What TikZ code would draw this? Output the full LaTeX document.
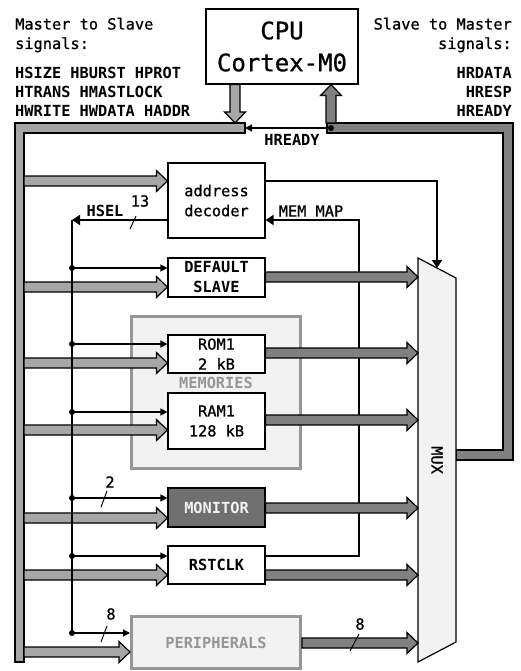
\documentclass[tikz,border=0pt]{standalone}
\usepackage{fontspec}
\usepackage{tikz}
\usetikzlibrary{calc,arrows.meta}
\newfontfamily\mono[FakeBold=0.9]{DejaVu Sans Mono}
\newfontfamily\monob[BoldFont={DejaVu Sans Mono Bold}]{DejaVu Sans Mono Bold}
\newcommand{\txt}{\mono\fontsize{15.3}{20}\selectfont}
\newcommand{\btxt}{\monob\fontsize{15.3}{20}\selectfont}
\definecolor{ingray}{RGB}{166,166,166}
\definecolor{outgray}{RGB}{128,128,128}
\definecolor{boxfill}{RGB}{242,242,242}
\definecolor{grpgray}{RGB}{150,150,150}
\definecolor{mongray}{RGB}{112,112,112}
\tikzset{
  lbl/.style={font=\txt, inner sep=0pt},
  blbl/.style={font=\btxt, inner sep=0pt},
  blk/.style={draw, line width=1.2pt, fill=white, minimum width=97pt, inner sep=0pt, align=center, font=\btxt},
  grp/.style={draw=grpgray, line width=3pt, fill=boxfill, minimum width=169pt, inner sep=0pt, font=\btxt, text=grpgray},
  fatline/.style={draw=black, line width=1.2pt, line join=miter},
  sig/.style={line width=1.3pt, -{Triangle[width=7pt,length=7pt]}},
  bsig/.style={line width=2.5pt, -{Triangle[width=10pt,length=8pt]}},
  bline/.style={line width=2.5pt},
  tick/.style={line width=1pt}
}
% flecha gruesa de #2 a #3
\newcommand{\fatarrow}[3][ingray]{%
  \coordinate (fa-s) at #2;
  \coordinate (fa-e) at #3;
  \coordinate (fa-b) at ($(fa-e)!11pt!(fa-s)$);
  \draw[fatline, fill=#1]
    ($(fa-s)!5pt!90:(fa-e)$) -- ($(fa-b)!5pt!-90:(fa-s)$) -- ($(fa-b)!10.5pt!-90:(fa-s)$)
    -- (fa-e) -- ($(fa-b)!10.5pt!90:(fa-s)$) -- ($(fa-b)!5pt!90:(fa-s)$)
    -- ($(fa-s)!5pt!-90:(fa-e)$) -- cycle;}
\begin{document}
\begin{tikzpicture}[x=1pt,y=-1pt]
  \useasboundingbox (0,0) rectangle (520,671);

  % textos de senales
  \node[lbl, anchor=base west] (m2s1) at (15,29.5) {Master to Slave};
  \node[lbl, anchor=base west] (m2s2) at (15,49) {signals:};
  \node[blbl, anchor=base west] (m2sa) at (15,78.5) {HSIZE HBURST HPROT};
  \node[blbl, anchor=base west] (m2sb) at (15,97.5) {HTRANS HMASTLOCK};
  \node[blbl, anchor=base west] (m2sc) at (15,116.5) {HWRITE HWDATA HADDR};
  \node[lbl, anchor=base east] (s2m1) at (512,29.5) {Slave to Master};
  \node[lbl, anchor=base east] (s2m2) at (512,49) {signals:};
  \node[blbl, anchor=base east] (s2ma) at (512,78.5) {HRDATA};
  \node[blbl, anchor=base east] (s2mb) at (512,97.5) {HRESP};
  \node[blbl, anchor=base east] (s2mc) at (512,116.5) {HREADY};

  % CPU
  \node[blk, minimum width=152pt, minimum height=75pt, font=\mono\fontsize{24}{32}\selectfont] (cpu) at (282,46.5) {CPU\\Cortex-M0};

  % buses
  \draw[fatline, fill=ingray] (15,123) -- (245,123) -- (245,133) -- (24,133) -- (24,662) -- (15,662) -- cycle;
  \draw[fatline, fill=outgray] (327,123) -- (513,123) -- (513,460) -- (456,460) -- (456,450) -- (503,450) -- (503,133) -- (327,133) -- cycle;
  \coordinate (hbusin) at (235,123);
  \coordinate (hrj) at (331,123);
  \coordinate (hrdot) at (331,128);
  \coordinate (hbusend) at (245,128);
  \fatarrow{(hbusin |- cpu.south)}{(hbusin)}
  \fatarrow[outgray]{(hrj)}{(hrj |- cpu.south)}
  \draw[sig] (hrdot) -- (hbusend);
  \fill (hrdot) circle (3pt);
  \node[blbl] (hready) at (292,140) {HREADY};

  % MUX
  \coordinate (muxtl) at (418,258);
  \coordinate (muxtr) at (456,278);
  \coordinate (muxbr) at (456,642);
  \coordinate (muxbl) at (418,662);
  \coordinate (muxin) at ($(muxtl)!0.5!(muxtr)$);
  \draw[fill=boxfill, line width=1.2pt] (muxtl) -- (muxtr) -- (muxbr) -- (muxbl) -- cycle;
  \node[lbl, rotate=-90] (muxlbl) at (437,460) {MUX};

  % bloques
  \node[grp, minimum height=152pt] (mem) at (216,392.5) {};
  \node[blbl, text=grpgray] (memlbl) at (216,383) {MEMORIES};
  \node[blk, minimum height=75pt, font=\txt] (dec) at (216.5,200.5) {address\\decoder};
  \node[blk, minimum height=39pt] (dflt) at (216.5,277.5) {DEFAULT\\SLAVE};
  \node[blk, minimum height=38pt, font=\txt] (rom) at (216.5,354) {ROM1\\2 kB};
  \node[blk, minimum height=56pt, font=\txt] (ram) at (216.5,421) {RAM1\\128 kB};
  \node[blk, minimum height=39pt, fill=mongray, text=boxfill] (mon) at (216.5,507.5) {MONITOR};
  \node[blk, minimum height=38pt] (rst) at (216.5,565) {RSTCLK};
  \node[grp, minimum height=52pt] (peri) at (216,642.5) {PERIPHERALS};

  % decodificador
  \coordinate (gdec) at (24,181);
  \fatarrow{(gdec)}{(gdec -| dec.west)}
  \coordinate (dm) at (437,181);
  \draw[bsig] (dm -| dec.east) -- (dm) -- (muxin);
  \coordinate (hseltop) at (72,220);
  \coordinate (mmtop) at (359,220);
  \coordinate (mmbot) at (359,556);
  \draw[bsig] (hseltop -| dec.west) -- (hseltop);
  \draw[bsig] (mmbot -| rst.east) -- (mmbot) -- (mmtop) -- (mmtop -| dec.east);
  \node[blbl] (hsel) at (105,211) {HSEL};
  \node[lbl] (mmap) at (311,211) {MEM MAP};
  \draw[tick] (130,229) -- (136,216);
  \node[lbl] (n13) at (140,201) {13};

  % esclavos: nombre / senal HSEL / entrada / salida
  \foreach \b/\yt/\yg/\yo in {dflt/268/287/277, rom/344/363/353, ram/412/430/420,
                               mon/498/518/508, rst/556/575/575, peri/633/652/643}{
    \coordinate (j\b) at (72,\yt);
    \coordinate (g\b) at (24,\yg);
    \coordinate (o\b) at (418,\yo);
    \draw[sig] (j\b) -- (j\b -| \b.west);
    \fill (j\b) circle (3pt);
    \fatarrow{(g\b)}{(g\b -| \b.west)}
    \fatarrow[outgray]{(o\b -| \b.east)}{(o\b)}
  }
  \draw[bline] (hseltop) -- (jperi);

  % anchos de bus
  \draw[tick] (101,507) -- (107,491);
  \node[lbl] (n2) at (110,482) {2};
  \draw[tick] (101,642) -- (107,626);
  \node[lbl] (n8a) at (111,614) {8};
  \draw[tick] (350,651) -- (359,634);
  \node[lbl] (n8b) at (360,624) {8};
\end{tikzpicture}
\end{document}
